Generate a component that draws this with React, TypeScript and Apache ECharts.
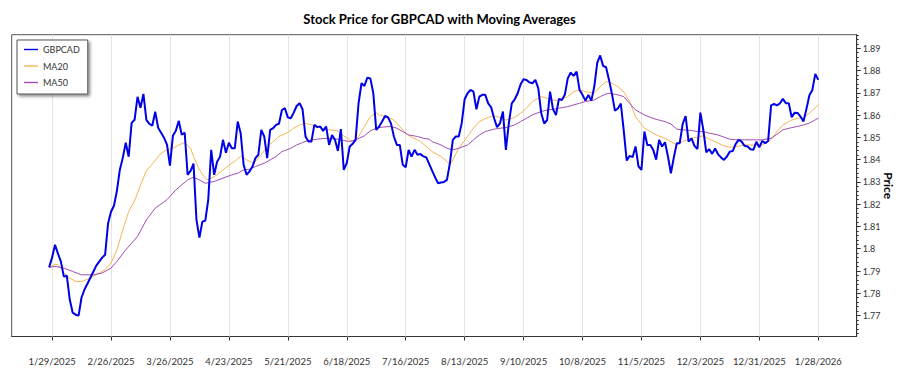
import React, { useEffect, useRef } from "react";
import * as echarts from "echarts";

// ---------- data ----------
// Trading (week) days from 2025-01-28; index k in this list is the x value.
const FIRST_DAY = "2025-01-28";
const DAY_COUNT = 262;

// Tick labels on the date axis (every 4 weeks)
const dateTickLabels = [
  "1/29/2025", "2/26/2025", "3/26/2025", "4/23/2025", "5/21/2025", "6/18/2025", "7/16/2025",
  "8/13/2025", "9/10/2025", "10/8/2025", "11/5/2025", "12/3/2025", "12/31/2025", "1/28/2026",
];

// Tick labels on the price axis
const priceTicks = [1.77, 1.78, 1.79, 1.8, 1.81, 1.82, 1.83, 1.84, 1.85, 1.86, 1.87, 1.88, 1.89];
const priceMin = 1.7606;
const priceMax = 1.8961;

// Daily GBPCAD close, one value per trading day
const gbpcad = [
  1.7917, 1.7960, 1.8018, 1.7978, 1.7942, 1.7875, 1.7879, 1.7772, 1.7713, 1.7704,
  1.7700, 1.7781, 1.7817, 1.7843, 1.7870, 1.7897, 1.7924, 1.7942, 1.7960, 1.7973,
  1.8113, 1.8166, 1.8193, 1.8260, 1.8355, 1.8408, 1.8476, 1.8413, 1.8565, 1.8579,
  1.8682, 1.8633, 1.8695, 1.8579, 1.8561, 1.8552, 1.8615, 1.8543, 1.8521, 1.8498,
  1.8467, 1.8373, 1.8507, 1.8530, 1.8574, 1.8512, 1.8521, 1.8332, 1.8350, 1.8382,
  1.8130, 1.8050, 1.8121, 1.8126, 1.8220, 1.8444, 1.8332, 1.8391, 1.8413, 1.8489,
  1.8431, 1.8476, 1.8451, 1.8451, 1.8571, 1.8519, 1.8377, 1.8332, 1.8347, 1.8369,
  1.8407, 1.8422, 1.8534, 1.8504, 1.8407, 1.8534, 1.8541, 1.8556, 1.8561, 1.8623,
  1.8631, 1.8590, 1.8586, 1.8611, 1.8641, 1.8653, 1.8626, 1.8504, 1.8481, 1.8481,
  1.8556, 1.8546, 1.8549, 1.8529, 1.8549, 1.8466, 1.8511, 1.8489, 1.8439, 1.8537,
  1.8354, 1.8384, 1.8459, 1.8471, 1.8489, 1.8653, 1.8743, 1.8731, 1.8768, 1.8765,
  1.8700, 1.8534, 1.8549, 1.8571, 1.8596, 1.8590, 1.8563, 1.8504, 1.8466, 1.8466,
  1.8377, 1.8366, 1.8444, 1.8414, 1.8444, 1.8422, 1.8425, 1.8415, 1.8410, 1.8380,
  1.8350, 1.8320, 1.8294, 1.8297, 1.8300, 1.8309, 1.8384, 1.8489, 1.8504, 1.8504,
  1.8563, 1.8671, 1.8698, 1.8713, 1.8705, 1.8626, 1.8683, 1.8691, 1.8691, 1.8653,
  1.8635, 1.8586, 1.8546, 1.8563, 1.8616, 1.8444, 1.8563, 1.8653, 1.8671, 1.8698,
  1.8738, 1.8761, 1.8758, 1.8747, 1.8743, 1.8758, 1.8720, 1.8608, 1.8562, 1.8578,
  1.8705, 1.8626, 1.8600, 1.8673, 1.8668, 1.8691, 1.8765, 1.8791, 1.8776, 1.8795,
  1.8713, 1.8691, 1.8665, 1.8691, 1.8665, 1.8728, 1.8835, 1.8868, 1.8821, 1.8815,
  1.8758, 1.8695, 1.8620, 1.8630, 1.8652, 1.8530, 1.8396, 1.8417, 1.8411, 1.8459,
  1.8370, 1.8354, 1.8526, 1.8466, 1.8466, 1.8444, 1.8400, 1.8489, 1.8459, 1.8478,
  1.8414, 1.8339, 1.8410, 1.8474, 1.8474, 1.8561, 1.8596, 1.8481, 1.8495, 1.8462,
  1.8448, 1.8611, 1.8534, 1.8433, 1.8447, 1.8426, 1.8450, 1.8424, 1.8410, 1.8399,
  1.8414, 1.8436, 1.8439, 1.8471, 1.8489, 1.8481, 1.8462, 1.8459, 1.8447, 1.8444,
  1.8480, 1.8455, 1.8484, 1.8474, 1.8484, 1.8644, 1.8650, 1.8644, 1.8653, 1.8673,
  1.8653, 1.8653, 1.8590, 1.8611, 1.8610, 1.8593, 1.8572, 1.8628, 1.8689, 1.8713,
  1.8785, 1.8758,
];

// 20-day moving average, read as [trading-day index, value]
const ma20: [number, number][] = [
  [0, 1.7916], [2, 1.7931], [3, 1.7928], [4, 1.7913], [5, 1.7891], [7, 1.7868], [9, 1.7853],
  [11, 1.7853], [14, 1.7868], [17, 1.7891], [19, 1.7906], [21, 1.7936], [23, 1.7995], [25, 1.8085],
  [27, 1.8167], [29, 1.8215], [31, 1.8285], [33, 1.835], [35, 1.838], [38, 1.8429], [40, 1.8444],
  [42, 1.8451], [44, 1.8466], [46, 1.8477], [48, 1.8451], [49, 1.8414], [51, 1.8354], [53, 1.8317],
  [54, 1.8309], [57, 1.8332], [59, 1.8354], [62, 1.8384], [63, 1.8392], [65, 1.8416], [67, 1.8399],
  [69, 1.8387], [70, 1.8392], [72, 1.8422], [74, 1.8459], [76, 1.8481], [78, 1.8504], [81, 1.8522],
  [83, 1.8541], [85, 1.8556], [87, 1.8563], [89, 1.8556], [91, 1.8546], [93, 1.8541], [95, 1.8534],
  [98, 1.8529], [100, 1.8507], [102, 1.8489], [103, 1.8481], [105, 1.8504], [107, 1.8549], [109, 1.8593],
  [111, 1.8611], [112, 1.8601], [115, 1.859], [117, 1.8578], [119, 1.8549], [121, 1.8519], [123, 1.85],
  [125, 1.8489], [126, 1.8481], [128, 1.8459], [130, 1.8436], [133, 1.8414], [135, 1.8392], [136, 1.8377],
  [137, 1.8399], [139, 1.8451], [142, 1.8504], [144, 1.8541], [146, 1.8571], [149, 1.859], [151, 1.8596],
  [153, 1.859], [155, 1.8578], [158, 1.859], [160, 1.8608], [162, 1.8631], [164, 1.8661], [167, 1.8683],
  [169, 1.8676], [171, 1.8668], [173, 1.8665], [176, 1.8683], [178, 1.8705], [180, 1.8713], [182, 1.8705],
  [185, 1.8698], [187, 1.8728], [189, 1.875], [190, 1.875], [193, 1.8728], [195, 1.8705], [197, 1.8661],
  [199, 1.8593], [202, 1.8541], [204, 1.8526], [206, 1.8511], [209, 1.8496], [211, 1.8481], [213, 1.8466],
  [215, 1.8481], [218, 1.8496], [220, 1.8501], [222, 1.8507], [224, 1.8492], [227, 1.8474], [229, 1.8462],
  [231, 1.8456], [233, 1.8459], [236, 1.8466], [238, 1.8466], [240, 1.8466], [242, 1.8466], [245, 1.8489],
  [247, 1.8526], [249, 1.8556], [252, 1.8578], [254, 1.8586], [256, 1.859], [258, 1.8608], [261, 1.8646],
];

// 50-day moving average, read as [trading-day index, value]
const ma50: [number, number][] = [
  [0, 1.7916], [2, 1.7921], [5, 1.7913], [8, 1.7898], [11, 1.7883], [15, 1.7883], [18, 1.7891],
  [21, 1.7913], [23, 1.7943], [26, 1.7995], [30, 1.8055], [33, 1.813], [36, 1.8182], [40, 1.822],
  [43, 1.8264], [47, 1.8309], [49, 1.8321], [51, 1.8309], [53, 1.8294], [56, 1.8302], [59, 1.8317],
  [62, 1.8332], [64, 1.8339], [66, 1.8354], [68, 1.8357], [70, 1.8369], [73, 1.8384], [75, 1.8399],
  [77, 1.8414], [79, 1.8436], [82, 1.8451], [84, 1.8466], [86, 1.8477], [88, 1.8486], [91, 1.8492],
  [93, 1.8495], [95, 1.8495], [98, 1.8492], [100, 1.8486], [102, 1.8481], [104, 1.8489], [107, 1.8507],
  [109, 1.8529], [111, 1.8541], [113, 1.8546], [116, 1.8549], [118, 1.8541], [120, 1.8526], [122, 1.8511],
  [125, 1.8504], [127, 1.8496], [129, 1.8492], [130, 1.8481], [133, 1.8466], [135, 1.8451], [137, 1.8444],
  [139, 1.8451], [142, 1.8466], [144, 1.8489], [146, 1.8511], [148, 1.8526], [151, 1.8537], [153, 1.8541],
  [155, 1.8544], [158, 1.8556], [160, 1.8571], [162, 1.8586], [164, 1.8601], [167, 1.8616], [169, 1.8623],
  [171, 1.8626], [173, 1.8631], [176, 1.8638], [178, 1.8646], [180, 1.8653], [182, 1.8661], [185, 1.8668],
  [187, 1.8683], [189, 1.8695], [190, 1.8698], [193, 1.8691], [195, 1.8683], [197, 1.8653], [199, 1.8623],
  [202, 1.8601], [204, 1.859], [206, 1.8581], [209, 1.8571], [211, 1.856], [213, 1.8537], [215, 1.8534],
  [218, 1.8531], [220, 1.8526], [222, 1.8526], [224, 1.8519], [227, 1.8511], [229, 1.8501], [231, 1.8492],
  [233, 1.8489], [236, 1.8489], [238, 1.8489], [240, 1.8489], [242, 1.8489], [245, 1.8496], [247, 1.8514],
  [249, 1.8534], [252, 1.8544], [254, 1.8549], [256, 1.8556], [258, 1.8564], [261, 1.8586],
];

// ---------- helpers ----------
function buildTradingDayLabels(first: string, count: number): string[] {
  const [y, m, d] = first.split("-").map(Number);
  const out: string[] = [];
  let t = Date.UTC(y, m - 1, d);
  while (out.length < count) {
    const dt = new Date(t);
    const wd = dt.getUTCDay();
    if (wd !== 0 && wd !== 6) {
      out.push(`${dt.getUTCMonth() + 1}/${dt.getUTCDate()}/${dt.getUTCFullYear()}`);
    }
    t += 86400000;
  }
  return out;
}

const FONT = "Lato, 'Open Sans', sans-serif";
const BLUE = "#0000e6";
const ORANGE = "#f5b552";
const PURPLE = "#a24db3";
const LEGEND_ICON = "path://M0 0H10V1H0Z";

export default function App() {
  const ref = useRef<HTMLDivElement>(null);

  useEffect(() => {
    if (!ref.current) return;
    const chart = echarts.init(ref.current, undefined, { renderer: "svg" });

    const dayLabels = buildTradingDayLabels(FIRST_DAY, DAY_COUNT);
    const tickPos = dateTickLabels.map((l) => dayLabels.indexOf(l));
    const minorTicks: number[] = [];
    for (let i = 0; i < priceTicks.length; i++) {
      for (let j = -4; j <= 4; j++) {
        if (j === 0) continue;
        const v = Math.round((priceTicks[i] + j * 0.002) * 10000) / 10000;
        if (v > priceMin && v < priceMax && !minorTicks.includes(v)) minorTicks.push(v);
      }
    }

    const axisColor = "#333";
    const option: any = {
      animation: false,
      backgroundColor: "#ffffff",
      textStyle: { fontFamily: FONT },
      title: {
        text: "Stock Price for GBPCAD with Moving Averages",
        left: 434.5,
        top: 7,
        textAlign: "center",
        textStyle: { fontSize: 13, fontWeight: "bold", color: "#000", fontFamily: FONT },
      },
      legend: {
        orient: "vertical",
        left: 17,
        top: 40,
        z: 10,
        icon: LEGEND_ICON,
        data: ["GBPCAD", "MA20", "MA50"],
        itemWidth: 14,
        itemHeight: 11,
        itemGap: 5.5,
        padding: [4, 8, 6, 7],
        backgroundColor: "#ffffff",
        borderColor: "#555",
        borderWidth: 1,
        shadowColor: "rgba(0,0,0,0.45)",
        shadowBlur: 3,
        shadowOffsetX: 2,
        shadowOffsetY: 2,
        selectedMode: false,
        textStyle: { fontSize: 9, lineHeight: 11, color: "#333", fontFamily: FONT },
      },
      grid: {
        left: 11.7,
        right: 43.3,
        top: 34.7,
        bottom: 38.5,
        outerBoundsMode: "none",
        containLabel: false,
        show: true,
        borderColor: "#555",
        borderWidth: 1,
        backgroundColor: "transparent",
      },
      xAxis: {
        type: "value",
        min: -12.7,
        max: 274.05,
        axisLine: { show: true, onZero: false, lineStyle: { color: axisColor } },
        axisTick: { show: true, customValues: tickPos, length: 4, lineStyle: { color: axisColor } },
        axisLabel: {
          customValues: tickPos,
          formatter: (v: number) => dayLabels[Math.round(v)] ?? "",
          fontSize: 9.5,
          color: "#333",
          margin: 20,
          fontFamily: FONT,
        },
        splitLine: { show: false },
      },
      yAxis: [
        {
          type: "value",
          position: "right",
          min: priceMin,
          max: priceMax,
          axisLine: { show: true, onZero: false, lineStyle: { color: axisColor } },
          axisTick: { show: true, customValues: priceTicks, length: 4, lineStyle: { color: axisColor } },
          axisLabel: {
            customValues: priceTicks,
            formatter: (v: number) => String(Math.round(v * 100) / 100),
            fontSize: 9,
            color: "#333",
            margin: 6,
            fontFamily: FONT,
          },
          splitLine: { show: false },
          name: "Price",
          nameLocation: "middle",
          nameRotate: -90,
          nameGap: 26,
          nameMoveOverlap: false,
          nameTextStyle: { fontSize: 12, fontWeight: "bold", color: "#000", fontFamily: FONT },
        },
        {
          type: "value",
          position: "right",
          min: priceMin,
          max: priceMax,
          axisLine: { show: false, onZero: false },
          axisTick: { show: true, customValues: minorTicks, length: 2, lineStyle: { color: axisColor } },
          axisLabel: { show: false },
          splitLine: { show: false },
        },
      ],
      series: [
        {
          name: "grid",
          type: "line",
          data: [],
          z: 1,
          silent: true,
          markLine: {
            z: 1,
            silent: true,
            symbol: ["none", "none"],
            label: { show: false },
            lineStyle: { color: "#e4e4e4", width: 1, type: "solid" },
            data: tickPos.map((p) => ({ xAxis: p })),
          },
        },
        {
          name: "GBPCAD",
          type: "line",
          data: gbpcad.map((v, k) => [k, v]),
          symbol: "none",
          showSymbol: false,
          lineStyle: { color: BLUE, width: 2 },
          itemStyle: { color: BLUE },
          z: 5,
        },
        {
          name: "MA20",
          type: "line",
          data: ma20,
          symbol: "none",
          showSymbol: false,
          lineStyle: { color: ORANGE, width: 1 },
          itemStyle: { color: ORANGE },
          z: 4,
        },
        {
          name: "MA50",
          type: "line",
          data: ma50,
          symbol: "none",
          showSymbol: false,
          lineStyle: { color: PURPLE, width: 1 },
          itemStyle: { color: PURPLE },
          z: 4,
        },
      ],
    };

    chart.setOption(option);
    return () => chart.dispose();
  }, []);

  return (
    <div
      ref={ref}
      style={{ position: "fixed", left: 0, top: 0, width: 900, height: 375, background: "#fff" }}
    />
  );
}
